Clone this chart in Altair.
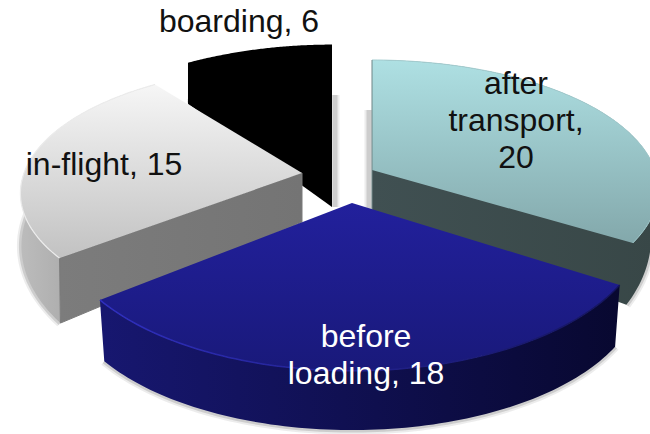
import math
import altair as alt

# Exploded 3D pie of incident counts by stage
stages = ["after transport", "before loading", "in-flight", "boarding"]
counts = [20, 18, 15, 6]
label_lines = [["after", "transport,", "20"], ["before", "loading, 18"], ["in-flight, 15"], ["boarding, 6"]]

# Perspective rim of each wedge: apex x/y, half-width, half-depth, foreshortening
top_rims = {
    "after transport": (372, 170, 283, 126.6, 0.151),
    "before loading": (352, 203, 290, 142, 0.154),
    "in-flight": (302, 173, 278, 124.3, 0.159),
    "boarding": (332, 166, 319, 170, 0.4),
}
base_rims = {
    "after transport": (372, 212, 276, 161, 0.151),
    "before loading": (352, 267, 285, 138, 0.154),
    "in-flight": (302, 222, 277, 147.6, 0.159),
    "boarding": (332, 207, 319, 170, 0.4),
}
# First-line anchor of each label
label_xy = {
    "after transport": (516, 84),
    "before loading": (366, 337),
    "in-flight": (104, 165),
    "boarding": (239, 22),
}
label_colors = {"before loading": "#ffffff"}
# Height at which the back edge of a wedge starts casting a shadow
rear_shadow_top = {"after transport": 110, "boarding": 95}
ARC_STEPS = 90


def rim_point(rim, theta):
    cx, cy, a, b, k = rim
    u, v = math.sin(theta), math.cos(theta)
    w = 1 / (1 + k * v)
    return [cx + a * u * w, cy - b * v * w]


def rim_arc(rim, t0, t1, steps=ARC_STEPS):
    return [rim_point(rim, t0 + (t1 - t0) * i / steps) for i in range(steps + 1)]


def linear(c0, c1, horizontal=False):
    return alt.LinearGradient(
        gradient="linear",
        x1=0, y1=0,
        x2=1 if horizontal else 0,
        y2=0 if horizontal else 1,
        stops=[alt.GradientStop(color=c0, offset=0), alt.GradientStop(color=c1, offset=1)],
    )


def polygon(points, **mark):
    ring = points + [points[0]]
    feature = {"type": "Feature", "properties": {}, "geometry": {"type": "Polygon", "coordinates": [ring]}}
    return alt.Chart(alt.Data(values=[feature])).mark_geoshape(**mark)


def polyline(points, **mark):
    feature = {"type": "Feature", "properties": {}, "geometry": {"type": "LineString", "coordinates": points}}
    return alt.Chart(alt.Data(values=[feature])).mark_geoshape(filled=False, **mark)


total = sum(counts)
spans = {}
start = 0.0
for name, count in zip(stages, counts):
    end = start + 2 * math.pi * count / total
    spans[name] = (start, end)
    start = end

styles = {
    "after transport": dict(top=linear("#aee0e3", "#83a8ab"), arc=linear("#405052", "#384747", True)),
    "before loading": dict(top=linear("#22209c", "#19197a"), arc=linear("#171770", "#080830", True)),
    "in-flight": dict(top=linear("#f6f6f6", "#c2c2c2"), arc=linear("#bcbcbc", "#909090", True),
                      face=linear("#7c7c7c", "#747474", True)),
    "boarding": dict(top="#000000"),
}

layers = []
for name in ["boarding", "after transport", "in-flight", "before loading"]:
    t0, t1 = spans[name]
    top, base = top_rims[name], base_rims[name]
    style = styles[name]
    top_arc = rim_arc(top, t0, t1)
    base_arc = rim_arc(base, t0, t1)
    apex_top, apex_base = list(top[:2]), list(base[:2])

    # soft drop shadow along the lower rim and the rear edge
    for width, alpha in ((9, 0.10), (5, 0.18)):
        layers.append(polyline(base_arc, stroke="#444444", strokeWidth=width, strokeOpacity=alpha))
        if name in rear_shadow_top:
            offset = 3 if name == "boarding" else -3
            edge = [[apex_base[0] + offset, rear_shadow_top[name]], [apex_base[0] + offset, apex_base[1]]]
            layers.append(polyline(edge, stroke="#444444", strokeWidth=width, strokeOpacity=alpha))

    if name == "boarding":
        # top and sides are all black, so one silhouette covers them
        layers.append(polygon(top_arc + [base_arc[-1], apex_base, base_arc[0]], fill="#000000", strokeWidth=0))
        continue

    if name == "after transport":
        # rim and end face share one shade, so they are drawn as a single silhouette
        k = round(ARC_STEPS * (math.pi / 2 - t0) / (t1 - t0))
        layers.append(polygon(top_arc[:k + 1] + base_arc[k:] + [apex_base], fill=style["arc"], strokeWidth=0))
    else:
        layers.append(polygon(top_arc + base_arc[::-1], fill=style["arc"], strokeWidth=0))
    if name == "in-flight":
        layers.append(polygon([apex_top, top_arc[0], base_arc[0], apex_base], fill=style["face"],
                              stroke="#7a7a7a", strokeWidth=1))
    layers.append(polygon([apex_top] + top_arc, fill=style["top"], strokeWidth=0))

    # bevel highlights on the rims
    if name == "before loading":
        layers.append(polyline(top_arc, stroke=linear("#2f2fc0", "#14145c", True), strokeWidth=1.5))
    elif name == "in-flight":
        layers.append(polyline(top_arc, stroke="#ececec", strokeWidth=1.2))
    elif name == "after transport":
        layers.append(polyline(top_arc, stroke="#a4cdd0", strokeWidth=1))
        layers.append(polyline([top_arc[0], apex_base], stroke="#6e8586", strokeWidth=1))

for name, lines in zip(stages, label_lines):
    x, y = label_xy[name]
    row = {"text": "\n".join(lines), "x": x, "y": y}
    layers.append(
        alt.Chart(alt.Data(values=[row]))
        .mark_text(font="Liberation Sans", fontSize=32, lineBreak="\n", lineHeight=37,
                   align="center", baseline="middle", color=label_colors.get(name, "#111111"))
        .encode(x=alt.X("x:Q", scale=None, axis=None), y=alt.Y("y:Q", scale=None, axis=None), text="text:N")
    )

chart = (
    alt.layer(*layers)
    .properties(width=650, height=434, padding=0, autosize=alt.AutoSizeParams(type="none"),
                background="#ffffff",
                projection=alt.Projection(type="identity", scale=1, translate=[0, 0]))
    .configure_view(strokeWidth=0)
)
chart.save("out.html", embed_options={"renderer": "svg", "actions": False})
